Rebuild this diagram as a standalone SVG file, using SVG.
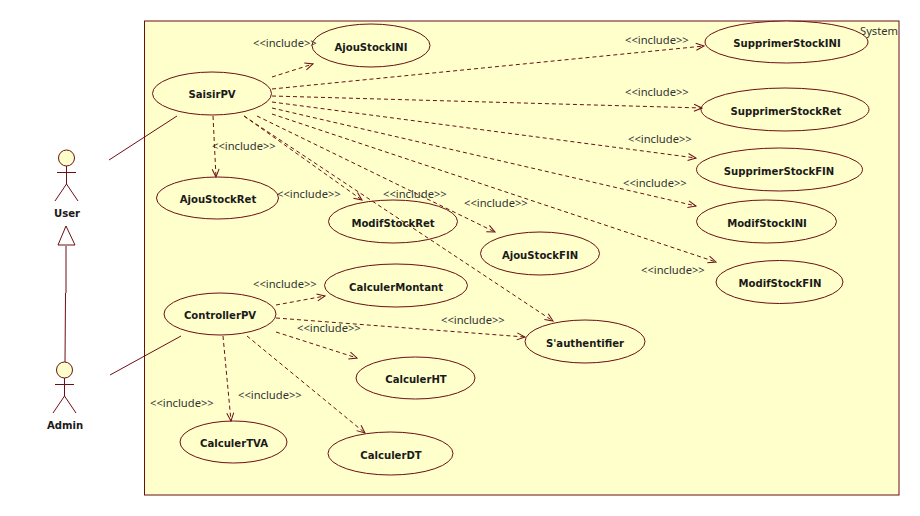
<svg xmlns="http://www.w3.org/2000/svg" width="920" height="516" viewBox="0 0 920 516">
<style>
.s{stroke:#6b0f14;stroke-width:1;fill:none}
.u{fill:#ffffcc;stroke:#6b0f14;stroke-width:1}
.d{stroke:#6b0f14;stroke-width:1;fill:none;stroke-dasharray:4 3;marker-end:url(#v)}
text{font-family:"DejaVu Sans","Liberation Sans",sans-serif;fill:#1a1a1a}
.n{font-size:10.1px;font-weight:bold;text-anchor:middle}
.l{font-family:"Noto Sans","Liberation Sans",sans-serif;font-size:11.2px;fill:#333}
</style>
<defs><marker id="v" markerUnits="userSpaceOnUse" markerWidth="10" markerHeight="10" refX="9" refY="5" orient="auto"><path d="M1 1.500L9 5L1 8.500" fill="none" stroke="#6b0f14"/></marker></defs>
<rect width="920" height="516" fill="#fff"/>
<g id="system"><rect class="u" x="144.500" y="21" width="754.500" height="474"/><text class="l" x="860" y="35">System</text></g>
<g id="SaisirPV"><ellipse class="u" cx="212" cy="93.500" rx="59.500" ry="21.500"/><text class="n" x="212" y="98">SaisirPV</text></g>
<g id="AjouStockINI"><ellipse class="u" cx="371" cy="45.500" rx="59" ry="21.500"/><text class="n" x="371" y="51">AjouStockINI</text></g>
<g id="AjouStockRet"><ellipse class="u" cx="217.500" cy="198" rx="61" ry="21"/><text class="n" x="218" y="203">AjouStockRet</text></g>
<g id="ModifStockRet"><ellipse class="u" cx="393" cy="221.500" rx="64.500" ry="21.500"/><text class="n" x="393" y="227">ModifStockRet</text></g>
<g id="AjouStockFIN"><ellipse class="u" cx="540" cy="253.500" rx="59.500" ry="21.500"/><text class="n" x="540" y="259">AjouStockFIN</text></g>
<g id="SupprimerStockINI"><ellipse class="u" cx="786.500" cy="42" rx="81.500" ry="21"/><text class="n" x="787" y="47">SupprimerStockINI</text></g>
<g id="SupprimerStockRet"><ellipse class="u" cx="785" cy="109.500" rx="84" ry="21.500"/><text class="n" x="786" y="115">SupprimerStockRet</text></g>
<g id="SupprimerStockFIN"><ellipse class="u" cx="779.500" cy="169.500" rx="83" ry="21.500"/><text class="n" x="779" y="175">SupprimerStockFIN</text></g>
<g id="ModifStockINI"><ellipse class="u" cx="766.500" cy="221.500" rx="70" ry="21.500"/><text class="n" x="767" y="227">ModifStockINI</text></g>
<g id="ModifStockFIN"><ellipse class="u" cx="779.500" cy="282" rx="63.500" ry="21.500"/><text class="n" x="780" y="287">ModifStockFIN</text></g>
<g id="ControllerPV"><ellipse class="u" cx="220" cy="314" rx="56" ry="21"/><text class="n" x="220" y="319">ControllerPV</text></g>
<g id="CalculerMontant"><ellipse class="u" cx="396" cy="285.500" rx="71.500" ry="21.500"/><text class="n" x="396" y="291">CalculerMontant</text></g>
<g id="CalculerHT"><ellipse class="u" cx="415.500" cy="378" rx="59.500" ry="21"/><text class="n" x="416" y="383">CalculerHT</text></g>
<g id="Sauthentifier"><ellipse class="u" cx="585" cy="341.500" rx="60" ry="21.500"/><text class="n" x="585" y="347">S'authentifier</text></g>
<g id="CalculerTVA"><ellipse class="u" cx="233.500" cy="442" rx="53.500" ry="21"/><text class="n" x="234" y="447">CalculerTVA</text></g>
<g id="CalculerDT"><ellipse class="u" cx="390.500" cy="453.500" rx="62.500" ry="21.500"/><text class="n" x="391" y="459">CalculerDT</text></g>
<g id="connectors">
<path class="s" d="M109 160L177 116M110 375L181 336"/>
<path class="s" d="M66 246L66 293M65.500 293L65 362"/><path class="s" d="M66 226L58 245H75Z"/>
<path class="d" d="M272 77L313 64"/><path class="d" d="M272 89L704 46"/><path class="d" d="M272 96L702 108"/>
<path class="d" d="M272 102L696 158"/><path class="d" d="M272 108L696 206"/><path class="d" d="M272 114L716 262"/>
<path class="d" d="M213 116L216 177"/><path class="d" d="M244 116L362 200"/><path class="d" d="M257 116L495 232"/><path class="d" d="M244 116L553 321"/>
<path class="d" d="M276 305L325 296"/><path class="d" d="M276 318L525 337"/><path class="d" d="M276 332L357 358"/>
<path class="d" d="M223 336L231 421"/><path class="d" d="M247 336L365 433"/>
</g>
<g id="user"><circle class="u" cx="66.500" cy="158" r="8"/><path class="s" d="M66.500 166V184M57 172.500H76M66.500 184L55 201M66.500 184L78 201"/><text class="n" x="67" y="217">User</text></g>
<g id="admin"><circle class="u" cx="64.500" cy="370" r="8"/><path class="s" d="M64.500 378V396M55 384.500H74M64.500 396L53 413M64.500 396L76 413"/><text class="n" x="65" y="429">Admin</text></g>
<g id="labels">
<text class="l" x="253" y="47">&lt;&lt;include&gt;&gt;</text>
<text class="l" x="212" y="150">&lt;&lt;include&gt;&gt;</text>
<text class="l" x="277" y="198">&lt;&lt;include&gt;&gt;</text>
<text class="l" x="383" y="198">&lt;&lt;include&gt;&gt;</text>
<text class="l" x="464" y="207">&lt;&lt;include&gt;&gt;</text>
<text class="l" x="625" y="44">&lt;&lt;include&gt;&gt;</text>
<text class="l" x="625" y="96">&lt;&lt;include&gt;&gt;</text>
<text class="l" x="628" y="143">&lt;&lt;include&gt;&gt;</text>
<text class="l" x="623" y="187">&lt;&lt;include&gt;&gt;</text>
<text class="l" x="641" y="274">&lt;&lt;include&gt;&gt;</text>
<text class="l" x="253" y="288">&lt;&lt;include&gt;&gt;</text>
<text class="l" x="297" y="332">&lt;&lt;include&gt;&gt;</text>
<text class="l" x="441" y="324">&lt;&lt;include&gt;&gt;</text>
<text class="l" x="238" y="399">&lt;&lt;include&gt;&gt;</text>
<text class="l" x="150" y="407">&lt;&lt;include&gt;&gt;</text>
</g>
</svg>
